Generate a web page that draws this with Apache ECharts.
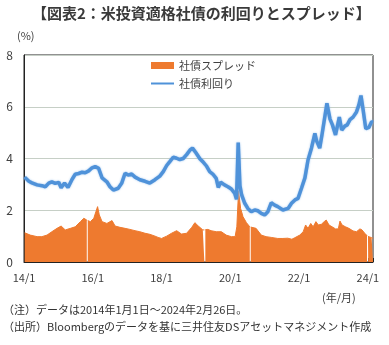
<!DOCTYPE html>
<html><head><meta charset="utf-8">
<script src="https://cdn.jsdelivr.net/npm/echarts@6/dist/echarts.min.js"></script>
<style>html,body{margin:0;padding:0;background:#fff}#c{width:389px;height:345px}</style>
</head><body><div id="c"></div>
<script>
const titleText = '【図表2：米投資適格社債の利回りとスプレッド】';
const unitText = '(%)';
const xUnitText = '(年/月)';
const noteLines = ['（注）データは2014年1月1日～2024年2月26日。', '（出所）Bloombergのデータを基に三井住友DSアセットマネジメント作成'];
const seriesNames = ['社債スプレッド', '社債利回り'];

// time in decimal years
const yieldTimes = [2014.02,2014.14,2014.23,2014.38,2014.52,2014.62,2014.72,2014.81,2014.91,2015.01,2015.08,2015.18,2015.28,2015.40,2015.49,2015.59,2015.69,2015.78,2015.88,2015.98,2016.07,2016.17,2016.27,2016.41,2016.50,2016.60,2016.74,2016.84,2016.94,2017.03,2017.13,2017.23,2017.37,2017.52,2017.66,2017.81,2017.95,2018.05,2018.15,2018.24,2018.34,2018.44,2018.53,2018.63,2018.73,2018.83,2018.90,2019.00,2019.12,2019.20,2019.30,2019.40,2019.49,2019.59,2019.65,2019.72,2019.83,2019.93,2020.03,2020.13,2020.18,2020.23,2020.28,2020.33,2020.42,2020.51,2020.61,2020.71,2020.80,2020.90,2021.00,2021.09,2021.19,2021.29,2021.38,2021.53,2021.68,2021.78,2021.88,2021.97,2022.07,2022.17,2022.26,2022.36,2022.46,2022.51,2022.60,2022.67,2022.75,2022.81,2022.90,2022.97,2023.06,2023.13,2023.17,2023.24,2023.33,2023.40,2023.48,2023.57,2023.67,2023.74,2023.80,2023.86,2023.94,2024.03,2024.11,2024.15];
const yieldValues = [3.28,3.12,3.06,2.98,2.95,2.91,3.05,3.10,3.04,3.08,2.87,3.05,2.88,3.20,3.39,3.42,3.47,3.45,3.52,3.64,3.69,3.62,3.25,3.10,2.91,2.78,2.85,3.04,3.43,3.36,3.40,3.28,3.18,3.12,3.05,3.18,3.32,3.49,3.73,3.88,4.05,4.01,3.96,4.00,4.15,4.33,4.40,4.22,3.98,3.88,3.72,3.49,3.40,3.23,2.88,3.08,2.98,2.91,2.82,2.65,2.42,4.62,2.95,2.59,2.27,2.07,1.94,2.01,1.98,1.88,1.82,1.94,2.29,2.20,2.14,2.01,2.07,2.27,2.40,2.46,2.85,3.25,3.94,4.40,4.97,4.68,4.40,4.95,5.62,6.13,5.52,5.30,4.91,5.35,5.60,5.10,5.25,5.30,5.50,5.60,5.80,6.07,6.43,5.90,5.15,5.20,5.42,5.40];

const spreadTimes = [2014.02,2014.18,2014.38,2014.52,2014.67,2014.81,2014.96,2015.08,2015.20,2015.35,2015.49,2015.64,2015.74,2015.826,2015.84,2015.854,2015.93,2016.03,2016.09,2016.14,2016.19,2016.27,2016.41,2016.56,2016.65,2016.79,2016.94,2017.08,2017.23,2017.37,2017.52,2017.66,2017.81,2017.90,2018.00,2018.15,2018.29,2018.44,2018.58,2018.73,2018.88,2018.97,2019.07,2019.20,2019.246,2019.26,2019.274,2019.35,2019.44,2019.59,2019.74,2019.88,2020.03,2020.14,2020.19,2020.24,2020.30,2020.37,2020.47,2020.566,2020.58,2020.594,2020.75,2020.90,2021.04,2021.19,2021.38,2021.53,2021.67,2021.79,2021.88,2022.02,2022.12,2022.19,2022.26,2022.34,2022.41,2022.49,2022.56,2022.65,2022.73,2022.79,2022.87,2022.96,2023.06,2023.14,2023.19,2023.25,2023.35,2023.45,2023.57,2023.67,2023.77,2023.83,2023.91,2023.976,2023.99,2024.004,2024.01,2024.11,2024.15];
const spreadValues = [1.13,1.04,0.98,0.98,1.04,1.17,1.30,1.39,1.24,1.30,1.36,1.56,1.69,1.62,null,1.60,1.56,1.69,1.94,2.14,1.82,1.56,1.49,1.60,1.39,1.34,1.30,1.26,1.21,1.17,1.11,1.07,1.00,0.95,0.91,1.00,1.11,1.21,1.08,1.11,1.34,1.52,1.39,1.24,1.24,null,1.25,1.26,1.21,1.17,1.17,1.04,0.98,0.98,1.36,2.75,2.07,1.75,1.52,1.36,null,1.35,1.30,1.04,0.98,0.95,0.91,0.91,0.92,0.88,0.94,1.04,1.17,1.43,1.30,1.49,1.36,1.56,1.43,1.46,1.56,1.62,1.43,1.36,1.28,1.28,1.58,1.43,1.36,1.30,1.20,1.17,1.28,1.24,1.11,1.02,null,0.99,0.98,0.94,0.91];

const xMin = 2014, xMax = 2024.15, xStep = 2;
const yMin = 0, yMax = 8, yStep = 2;

const FONT = "'Noto Sans CJK JP', 'Noto Sans', sans-serif";
const chart = echarts.init(document.getElementById('c'), null, {renderer: 'canvas'});
chart.setOption({
  animation: false,
  backgroundColor: '#fff',
  textStyle: {fontFamily: FONT},
  title: {
    text: titleText, left: 32, top: 6, padding: 0,
    textStyle: {fontSize: 15, fontWeight: 'bold', color: '#3a3a3a', fontFamily: FONT}
  },
  legend: {
    orient: 'vertical', left: 145, top: 55, itemWidth: 23, itemHeight: 7, itemGap: 7,
    textStyle: {fontSize: 11, color: '#404040', fontFamily: FONT},
    data: [{name: seriesNames[0], icon: 'rect'}, {name: seriesNames[1], itemStyle: {opacity: 0}}]
  },
  grid: {left: 24, right: 16, top: 55, bottom: 83, show: true, borderColor: '#222', borderWidth: 1, containLabel: false, outerBoundsMode: 'none'},
  xAxis: {
    type: 'value', min: xMin, max: xMax, interval: xStep,
    axisLine: {show: true, lineStyle: {color: '#222', width: 1}},
    axisTick: {show: true, inside: true, length: 4, lineStyle: {color: '#222'}},
    splitLine: {show: false},
    axisLabel: {
      margin: 10, fontSize: 11, color: '#404040', fontFamily: FONT, showMaxLabel: true,
      formatter: v => (Math.abs(v - Math.round(v)) < 1e-6) ? String(Math.round(v)).slice(2) + '/1' : ''
    }
  },
  yAxis: {
    type: 'value', min: yMin, max: yMax, interval: yStep,
    axisLine: {show: true, lineStyle: {color: '#222', width: 1}},
    axisTick: {show: false},
    splitLine: {show: true, lineStyle: {color: '#c6cfc6', width: 1}},
    axisLabel: {margin: 11, fontSize: 12, color: '#404040', fontFamily: FONT}
  },
  graphic: [
    {type: 'text', left: 17, top: 30, style: {text: unitText, fontSize: 11, fill: '#404040', fontFamily: FONT}},
    {type: 'text', left: 322, top: 292, style: {text: xUnitText, fontSize: 11, fill: '#404040', fontFamily: FONT}},
    {type: 'text', left: 3, top: 304, style: {text: noteLines[0], fontSize: 11, fill: '#333', fontFamily: FONT}},
    {type: 'text', left: 3, top: 321, style: {text: noteLines[1], fontSize: 11, fill: '#333', fontFamily: FONT}}
  ],
  series: [
    {
      name: seriesNames[0], type: 'line', symbol: 'none', connectNulls: false, z: 2,
      data: spreadTimes.map((t, i) => [t, spreadValues[i]]),
      lineStyle: {color: '#EE7A2F', width: 1},
      itemStyle: {color: '#EE7A2F'},
      areaStyle: {color: '#EE7A2F', opacity: 1}
    },
    {
      name: seriesNames[1], type: 'line', symbol: 'none', z: 3,
      data: yieldTimes.map((t, i) => [t, yieldValues[i]]),
      lineStyle: {color: '#4F92D9', width: 3.5, shadowColor: 'rgba(140,185,235,0.9)', shadowBlur: 2},
      itemStyle: {color: '#4F92D9'}
    }
  ]
});
</script></body></html>
